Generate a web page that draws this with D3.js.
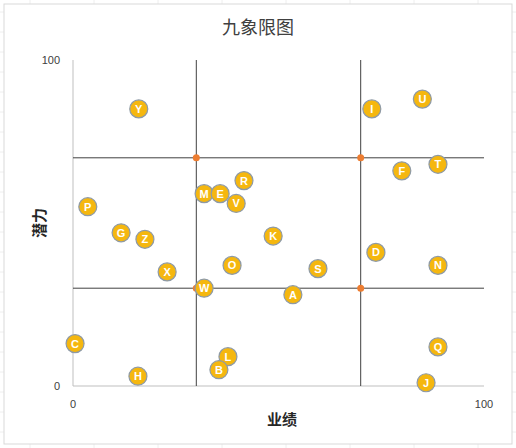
<!DOCTYPE html><html><head><meta charset="utf-8"><script src="https://cdn.jsdelivr.net/npm/d3@7"></script>
<style>body{margin:0;background:#fff}</style></head><body><svg id="c" width="516" height="448"></svg>
<script>
const labels=["Y","I","U","T","F","R","M","E","V","P","G","Z","K","D","O","S","N","X","W","A","C","Q","L","B","H","J"];
const xs=[16,72.7,85,88.8,80,41.6,31.9,35.8,39.7,3.6,11.7,17.5,48.7,73.7,38.7,59.6,88.8,22.9,31.9,53.5,0.5,88.8,37.7,35.5,15.8,85.9];
const ys=[85,85,88,68,66,63,59,59,56,55,47,45,46,41,37,36,37,35,30,28,13,12,9,5,3,1];
const divX=[30,70], divY=[30,70];
const tickVals=[0,100];
const svg=d3.select("#c");
// faint spreadsheet grid
for(let gx=30;gx<516;gx+=64) svg.append("line").attr("x1",gx).attr("x2",gx).attr("y1",0).attr("y2",448).attr("stroke","#eeeeee");
for(let gy=12;gy<448;gy+=20) svg.append("line").attr("x1",0).attr("x2",516).attr("y1",gy).attr("y2",gy).attr("stroke","#eeeeee");
svg.append("rect").attr("x",4).attr("y",4).attr("width",508).attr("height",440).attr("fill","#fff").attr("stroke","#d9d9d9");
const x=d3.scaleLinear().domain([0,100]).range([73,484]);
const y=d3.scaleLinear().domain([0,100]).range([386,60]);
svg.append("text").attr("x",258).attr("y",34).attr("text-anchor","middle").attr("font-size",18).attr("font-family","Noto Sans CJK SC").attr("fill","#404040").text("九象限图");
svg.append("line").attr("x1",x(0)).attr("x2",x(0)).attr("y1",y(0)).attr("y2",y(100)).attr("stroke","#bfbfbf");
svg.append("line").attr("x1",x(0)).attr("x2",x(100)).attr("y1",y(0)).attr("y2",y(0)).attr("stroke","#bfbfbf");
divX.forEach(v=>svg.append("line").attr("x1",x(v)).attr("x2",x(v)).attr("y1",y(0)).attr("y2",y(100)).attr("stroke","#404040"));
divY.forEach(v=>svg.append("line").attr("x1",x(0)).attr("x2",x(100)).attr("y1",y(v)).attr("y2",y(v)).attr("stroke","#404040"));
divX.forEach(a=>divY.forEach(b=>svg.append("circle").attr("cx",x(a)).attr("cy",y(b)).attr("r",3.5).attr("fill","#ed7d31")));
tickVals.forEach(v=>{
 svg.append("text").attr("x",x(v)).attr("y",408).attr("text-anchor","middle").attr("font-size",11).attr("font-family","Liberation Sans").attr("fill","#404040").text(v);
 svg.append("text").attr("x",60).attr("y",y(v)+4).attr("text-anchor","end").attr("font-size",11).attr("font-family","Liberation Sans").attr("fill","#404040").text(v);
});
svg.append("text").attr("x",282).attr("y",425).attr("text-anchor","middle").attr("font-size",15).attr("font-weight","bold").attr("font-family","Noto Sans CJK SC").attr("fill","#262626").text("业绩");
svg.append("text").attr("transform","translate(45,223) rotate(-90)").attr("text-anchor","middle").attr("font-size",15).attr("font-weight","bold").attr("font-family","Noto Sans CJK SC").attr("fill","#262626").text("潜力");
const g=svg.selectAll("g.p").data(labels).enter().append("g").attr("transform",(d,i)=>`translate(${x(xs[i])},${y(ys[i])})`);
g.append("circle").attr("r",9).attr("fill","#f5b70f").attr("stroke","#8e9aa6").attr("stroke-width",1.2);
g.append("text").attr("text-anchor","middle").attr("dy",4).attr("font-size",11).attr("font-weight","bold").attr("font-family","Liberation Sans").attr("fill","#fff").text(d=>d);
</script></body></html>
